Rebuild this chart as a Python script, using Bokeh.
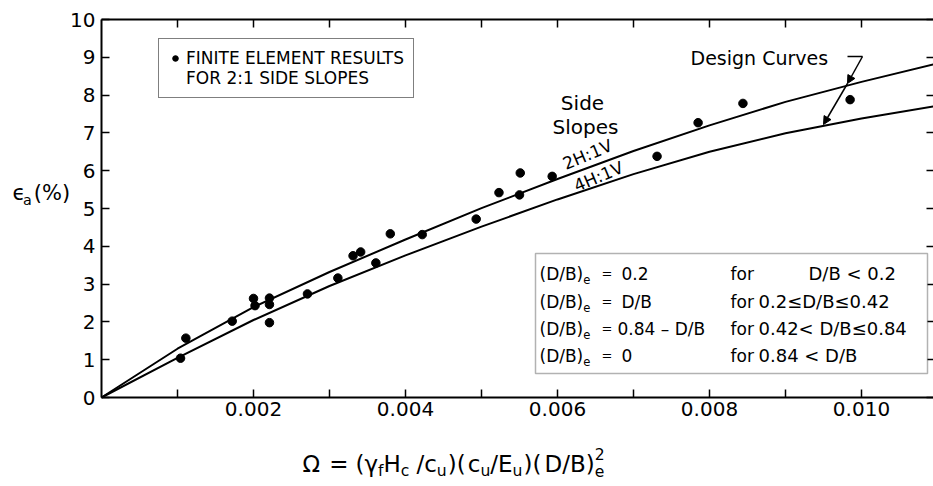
from bokeh.plotting import figure
from bokeh.models import (Range1d, LinearAxis, FixedTicker, NumeralTickFormatter, Label,
                          BoxAnnotation, Arrow, NormalHead, Legend, LegendItem, CustomJSTickFormatter)
from bokeh.embed import file_html
from bokeh.resources import INLINE

# ---------------- data ----------------
fe_omega = [0.00104, 0.00111, 0.00172, 0.00200, 0.00202, 0.00221, 0.00221, 0.00221,
            0.00271, 0.00311, 0.00331, 0.00341, 0.00361, 0.00380, 0.00422, 0.00493,
            0.00523, 0.00551, 0.00550, 0.00593, 0.00731, 0.00785, 0.00844, 0.00985]
fe_strain = [1.04, 1.57, 2.02, 2.62, 2.43, 2.63, 2.46, 1.98,
             2.74, 3.16, 3.75, 3.85, 3.56, 4.33, 4.31, 4.72,
             5.42, 5.94, 5.36, 5.85, 6.38, 7.27, 7.78, 7.88]

curve_omega = [0.0, 0.001, 0.002, 0.003, 0.004, 0.005, 0.006, 0.007, 0.008, 0.009, 0.010, 0.011]
curve_2h1v = [0.0, 1.29, 2.39, 3.32, 4.18, 5.01, 5.78, 6.52, 7.20, 7.82, 8.35, 8.84]
curve_4h1v = [0.0, 1.05, 2.05, 2.95, 3.76, 4.52, 5.24, 5.91, 6.50, 6.99, 7.38, 7.72]

x_major_ticks = [0.002, 0.004, 0.006, 0.008, 0.010]
x_minor_ticks = [0.001, 0.003, 0.005, 0.007, 0.009]
y_ticks = [0, 1, 2, 3, 4, 5, 6, 7, 8, 9, 10]

eq_left = ["(D/B)", "(D/B)", "(D/B)", "(D/B)"]
eq_value = ["0.2", "D/B", "0.84 \u2013 D/B", "0"]
eq_cond = ["D/B < 0.2", "0.2\u2264D/B\u22640.42", "0.42< D/B\u22640.84", "0.84 < D/B"]

FONT = "DejaVu Sans"

# ---------------- layout helpers (pixel -> data on this canvas) ----------------
X0, Y0 = 101.0, 397.0          # canvas pixel of the origin
SX, SY = 76000.0, 37.8         # pixels per data unit
W_PX, H_PX = 933, 486


def X(px):
    return (px - X0) / SX


def Y(py):
    return (Y0 - py) / SY


p = figure(width=W_PX, height=H_PX, output_backend="svg", toolbar_location=None, title=None,
           x_range=Range1d(X(0), X(W_PX)), y_range=Range1d(Y(H_PX), Y(0)),
           x_axis_location=None, y_axis_location=None, min_border=0)
p.outline_line_color = None
p.grid.visible = False
p.background_fill_color = "white"
p.border_fill_color = "white"

xt = FixedTicker(ticks=x_major_ticks, minor_ticks=x_minor_ticks)
yt = FixedTicker(ticks=y_ticks)
blank_fmt = CustomJSTickFormatter(code="return ''")


def style(ax, tick_len=8):
    ax.axis_line_width = 2
    ax.axis_line_color = "black"
    ax.major_tick_in = tick_len
    ax.major_tick_out = 0
    ax.minor_tick_in = tick_len
    ax.minor_tick_out = 0
    ax.major_tick_line_width = 1.5
    ax.minor_tick_line_width = 1.5
    ax.major_tick_line_color = "black"
    ax.minor_tick_line_color = "black"
    ax.major_label_text_font = FONT
    ax.major_label_text_font_size = "20px"
    ax.major_label_text_color = "black"


xa = LinearAxis(ticker=xt, formatter=NumeralTickFormatter(format="0.000"),
                fixed_location=0, bounds=(0, X(W_PX)))
style(xa)
xa.major_label_standoff = 4
p.add_layout(xa, "below")

ya = LinearAxis(ticker=yt, fixed_location=0, bounds=(0, 10))
style(ya)
ya.major_label_standoff = 6
p.add_layout(ya, "left")

top = LinearAxis(ticker=xt, formatter=blank_fmt, fixed_location=10, bounds=(0, X(W_PX)))
style(top)
p.add_layout(top, "above")

right = LinearAxis(ticker=FixedTicker(ticks=y_ticks, minor_ticks=[]), formatter=blank_fmt,
                   fixed_location=X(W_PX), bounds=(0, 10))
style(right, 7)
right.axis_line_color = None
p.add_layout(right, "right")

# design curves
p.line(curve_omega, curve_2h1v, line_color="black", line_width=2)
p.line(curve_omega, curve_4h1v, line_color="black", line_width=2)

# finite element results
pts = p.scatter(fe_omega, fe_strain, size=8.5, marker="circle", fill_color="black", line_color="black")
blank = p.scatter([], [], size=8, fill_alpha=0, line_alpha=0)

legend = Legend(items=[LegendItem(label="FINITE ELEMENT RESULTS", renderers=[pts]),
                       LegendItem(label="FOR 2:1 SIDE SLOPES", renderers=[blank])],
                location=(158, H_PX - 98), label_text_font=FONT, label_text_font_size="17px",
                label_text_color="black", label_height=20, spacing=0, padding=9,
                glyph_width=14, glyph_height=20, label_standoff=4, margin=0,
                border_line_color="black", border_line_width=1.5, background_fill_alpha=1)
p.add_layout(legend)


def lab(px, py, text, size, align="left", angle=0.0):
    p.add_layout(Label(x=X(px), y=Y(py), text=text, text_font=FONT, text_font_size=f"{size}px",
                       text_color="black", text_baseline="middle", text_align=align, angle=angle))


EM = {"(": 0.390, ")": 0.390, "/": 0.337, "=": 0.838, "0": 0.636, "2": 0.636,
      ".": 0.318, "\u03a9": 0.770, "\u03b3": 0.592, "H": 0.752, "c": 0.550, "u": 0.634,
      "E": 0.632, "D": 0.770, "B": 0.686, "f": 0.352, "e": 0.615, "a": 0.613,
      "\u03f5": 0.500, "%": 0.950}


def rich(x0, yc, parts, size):
    x = x0
    for txt, kind in parts:
        if kind == "gap":
            x += txt
            continue
        if kind == "n":
            fs, dy = size, 0.0
        elif kind == "sub":
            fs, dy = size * 0.68, size * 0.34
        else:
            fs, dy = size * 0.68, -size * 0.42
        lab(x, yc + dy, txt, round(fs, 1))
        if kind != "sup":
            x += sum(EM.get(ch, 0.6) for ch in txt) * fs


# axis titles
rich(12, 192, [("\u03f5", "n"), ("a", "sub"), (2, "gap"), ("(%)", "n")], 21)
rich(302, 463, [("\u03a9", "n"), (9, "gap"), ("=", "n"), (7, "gap"), ("(\u03b3", "n"), ("f", "sub"),
                ("H", "n"), ("c", "sub"), (7, "gap"), ("/c", "n"), ("u", "sub"), (1, "gap"),
                (")(", "n"), (2, "gap"), ("c", "n"), ("u", "sub"), ("/E", "n"), ("u", "sub"),
                (1, "gap"), (")(", "n"), (3, "gap"), ("D/B)", "n"), ("2", "sup"), ("e", "sub")], 23)

# equations box
p.add_layout(BoxAnnotation(left=X(535), right=X(927), top=Y(253), bottom=Y(373),
                           fill_color="white", fill_alpha=1, line_color="black", line_width=1.5))
rows_y = [273, 301, 328, 355]
val_x = [621, 621, 617, 621]
for i, yy in enumerate(rows_y):
    rich(539, yy, [(eq_left[i], "n"), ("e", "sub")], 17)
    lab(601, yy, "=", 13)
    lab(val_x[i], yy, eq_value[i], 17)
    lab(730, yy, "for", 17)
    lab(808 if i == 0 else 758, yy, eq_cond[i], 18)

# curve labels
lab(582, 102, "Side", 20, "center")
lab(585, 126, "Slopes", 20, "center")
lab(587, 154, "2H:1V", 17, "center", 0.40)
lab(598, 176, "4H:1V", 17, "center", 0.40)
lab(690, 57, "Design Curves", 19)

p.add_layout(Arrow(end=None, x_start=X(847), y_start=Y(56), x_end=X(862), y_end=Y(56),
                   line_width=1.5, line_color="black"))
p.add_layout(Arrow(end=NormalHead(size=8, fill_color="black", line_color="black"),
                   x_start=X(862), y_start=Y(56), x_end=X(847), y_end=Y(83),
                   line_width=1.5, line_color="black"))
p.add_layout(Arrow(end=NormalHead(size=8, fill_color="black", line_color="black"),
                   x_start=X(847), y_start=Y(83), x_end=X(823), y_end=Y(124),
                   line_width=1.5, line_color="black"))

open("out.html", "w").write(file_html(p, INLINE))
